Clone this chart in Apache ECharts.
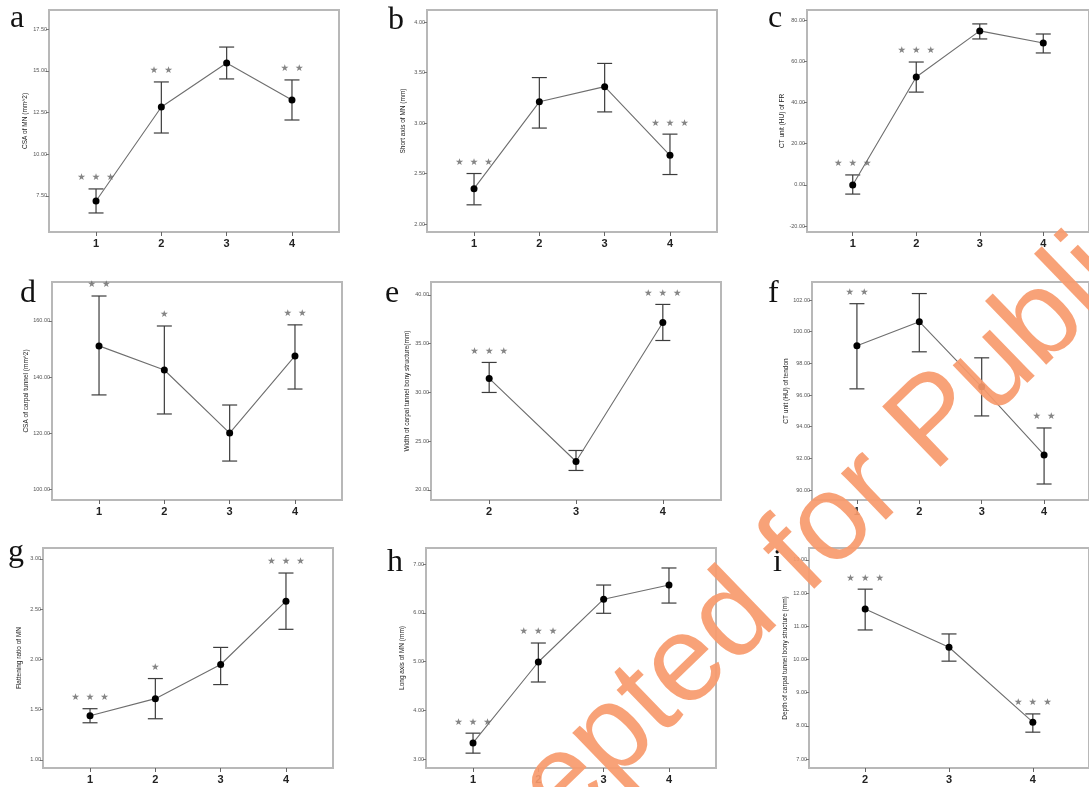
<!DOCTYPE html>
<html><head><meta charset="utf-8">
<script src="https://cdn.jsdelivr.net/npm/echarts@6/dist/echarts.min.js"></script>
<style>html,body{margin:0;padding:0;background:#fff}#c{width:1089px;height:787px}</style>
</head><body><div id="c"></div>
<script>
// ---- data ----
const cats4 = [1, 2, 3, 4];
const cats3 = [2, 3, 4];

const aMean = [7.20, 12.83, 15.46, 13.25];
const aLow  = [6.48, 11.27, 14.51, 12.05];
const aHigh = [7.92, 14.33, 16.42, 14.45];
const aStars = ['***', '**', '', '**'];
const aTicks = [7.5, 10, 12.5, 15, 17.5];

const bMean = [2.35, 3.21, 3.36, 2.68];
const bLow  = [2.19, 2.95, 3.11, 2.49];
const bHigh = [2.50, 3.45, 3.59, 2.89];
const bStars = ['***', '', '', '***'];
const bTicks = [2, 2.5, 3, 3.5, 4];

const cMean = [-0.1, 52.3, 74.7, 68.8];
const cLow  = [-4.5, 45.0, 70.8, 64.0];
const cHigh = [4.8, 59.6, 78.1, 73.2];
const cStars = ['***', '***', '', ''];
const cTicks = [-20, 0, 20, 40, 60, 80];

const dMean = [151.1, 142.5, 120.0, 147.5];
const dLow  = [133.6, 126.8, 110.0, 135.7];
const dHigh = [168.9, 158.2, 130.0, 158.6];
const dStars = ['**', '*', '', '**'];
const dTicks = [100, 120, 140, 160];

const eMean = [31.44, 22.92, 37.18];
const eLow  = [30.00, 22.00, 35.33];
const eHigh = [33.08, 24.05, 39.03];
const eStars = ['***', '', '***'];
const eTicks = [20, 25, 30, 35, 40];

const fMean = [99.11, 100.63, 96.52, 92.22];
const fLow  = [96.39, 98.73, 94.68, 90.38];
const fHigh = [101.77, 102.41, 98.35, 93.92];
const fStars = ['**', '', '', '**'];
const fTicks = [90, 92, 94, 96, 98, 100, 102];

const gMean = [1.44, 1.61, 1.95, 2.58];
const gLow  = [1.37, 1.41, 1.75, 2.30];
const gHigh = [1.51, 1.81, 2.12, 2.86];
const gStars = ['***', '*', '', '***'];
const gTicks = [1, 1.5, 2, 2.5, 3];

const hMean = [3.33, 4.99, 6.28, 6.57];
const hLow  = [3.12, 4.58, 5.99, 6.20];
const hHigh = [3.53, 5.38, 6.57, 6.92];
const hStars = ['***', '***', '', ''];
const hTicks = [3, 4, 5, 6, 7];

const iMean = [11.52, 10.37, 8.11];
const iLow  = [10.89, 9.95, 7.81];
const iHigh = [12.12, 10.77, 8.36];
const iStars = ['***', '', '***'];
const iTicks = [7, 8, 9, 10, 11, 12, 13];

const panelLetters = ['a', 'b', 'c', 'd', 'e', 'f', 'g', 'h', 'i'];
const yNames = [
  'CSA of MN (mm^2)',
  'Short axis of MN (mm)',
  'CT unit (HU) of FR',
  'CSA of carpal tunnel (mm^2)',
  'Width of carpal tunnel bony structure(mm)',
  'CT unit (HU) of tendon',
  'Flattening ratio of MN',
  'Long axis of MN (mm)',
  'Depth of carpal tunnel bony structure (mm)'
];
const watermarkText = 'Accepted for Publication';

// ---- layout (positions / ranges) ----
const panels = [
  {cats: cats4, mean: aMean, low: aLow, high: aHigh, stars: aStars, ticks: aTicks, left: 49,  top: 10,  height: 222, xMin: 0.28, xMax: 4.72, yMin: 5.34,  yMax: 18.64, lx: 10,  lb: 35},
  {cats: cats4, mean: bMean, low: bLow, high: bHigh, stars: bStars, ticks: bTicks, left: 427, top: 10,  height: 222, xMin: 0.28, xMax: 4.72, yMin: 1.921, yMax: 4.119, lx: 388, lb: 37},
  {cats: cats4, mean: cMean, low: cLow, high: cHigh, stars: cStars, ticks: cTicks, left: 807, top: 10,  height: 222, xMin: 0.28, xMax: 4.72, yMin: -22.9, yMax: 84.85, lx: 768, lb: 35},
  {cats: cats4, mean: dMean, low: dLow, high: dHigh, stars: dStars, ticks: dTicks, left: 52,  top: 282, height: 218, xMin: 0.28, xMax: 4.72, yMin: 96.1,  yMax: 173.9, lx: 20,  lb: 310},
  {cats: cats3, mean: eMean, low: eLow, high: eHigh, stars: eStars, ticks: eTicks, left: 431, top: 282, height: 218, xMin: 1.33, xMax: 4.67, yMin: 18.97, yMax: 41.33, lx: 385, lb: 310},
  {cats: cats4, mean: fMean, low: fLow, high: fHigh, stars: fStars, ticks: fTicks, left: 812, top: 282, height: 218, xMin: 0.28, xMax: 4.72, yMin: 89.37, yMax: 103.14, lx: 768, lb: 310},
  {cats: cats4, mean: gMean, low: gLow, high: gHigh, stars: gStars, ticks: gTicks, left: 43,  top: 548, height: 220, xMin: 0.28, xMax: 4.72, yMin: 0.92,  yMax: 3.109, lx: 8,   lb: 569},
  {cats: cats4, mean: hMean, low: hLow, high: hHigh, stars: hStars, ticks: hTicks, left: 426, top: 548, height: 220, xMin: 0.28, xMax: 4.72, yMin: 2.815, yMax: 7.33,  lx: 387, lb: 579},
  {cats: cats3, mean: iMean, low: iLow, high: iHigh, stars: iStars, ticks: iTicks, left: 809, top: 548, height: 220, xMin: 1.33, xMax: 4.67, yMin: 6.73,  yMax: 13.36, lx: 773, lb: 579}
];

const FONT = 'Liberation Sans, Arial, sans-serif';
const grids = [], xAxes = [], yAxes = [], series = [], graphics = [];

function starText(s) {
  return s ? s.split('').map(() => '\u2605').join('  ') : '';
}

panels.forEach((p, k) => {
  grids.push({left: p.left, top: p.top, width: 290, height: p.height, show: true,
    borderColor: '#b8b8b8', borderWidth: 2, backgroundColor: 'transparent', containLabel: false});
  xAxes.push({type: 'value', gridIndex: k, min: p.xMin, max: p.xMax, position: 'bottom',
    axisLine: {show: false, onZero: false}, splitLine: {show: false},
    axisTick: {show: true, customValues: p.cats, length: 4, lineStyle: {color: '#666', width: 1}},
    axisLabel: {show: true, customValues: p.cats, fontSize: 11, fontWeight: 'bold', color: '#222', margin: 6, fontFamily: FONT}
  });
  yAxes.push({type: 'value', gridIndex: k, min: p.yMin, max: p.yMax, position: 'left',
    name: yNames[k], nameLocation: 'middle', nameGap: 20,
    nameTextStyle: {fontSize: 6.5, color: '#222', fontFamily: FONT},
    axisLine: {show: false, onZero: false}, splitLine: {show: false},
    axisTick: {show: true, customValues: p.ticks, length: 3, lineStyle: {color: '#777', width: 1}},
    axisLabel: {show: true, customValues: p.ticks, fontSize: 5.5, color: '#555', margin: 2, fontFamily: FONT,
      formatter: v => Number(v).toFixed(2)}
  });
  series.push({
    type: 'custom', xAxisIndex: k, yAxisIndex: k, z: 3,
    data: p.cats.map((c, j) => [c, p.low[j], p.high[j]]),
    encode: {x: 0, y: [1, 2]},
    renderItem: (params, api) => {
      const x = api.value(0);
      const a = api.coord([x, api.value(1)]);
      const b = api.coord([x, api.value(2)]);
      const w = 7.5;
      const st = {stroke: '#3c3c3c', lineWidth: 1.2};
      return {type: 'group', children: [
        {type: 'line', shape: {x1: a[0], y1: a[1], x2: b[0], y2: b[1]}, style: st},
        {type: 'line', shape: {x1: a[0] - w, y1: a[1], x2: a[0] + w, y2: a[1]}, style: st},
        {type: 'line', shape: {x1: b[0] - w, y1: b[1], x2: b[0] + w, y2: b[1]}, style: st}
      ]};
    }
  });
  series.push({
    type: 'line', xAxisIndex: k, yAxisIndex: k, z: 4,
    data: p.cats.map((c, j) => [c, p.mean[j]]),
    symbol: 'circle', symbolSize: 7, showAllSymbol: true,
    itemStyle: {color: '#000'}, lineStyle: {color: '#6e6e6e', width: 1.1},
    animation: false
  });
  series.push({
    type: 'scatter', xAxisIndex: k, yAxisIndex: k, z: 5,
    data: p.cats.map((c, j) => [c, p.high[j], starText(p.stars[j])]),
    symbolSize: 0.1, itemStyle: {color: 'transparent'},
    label: {show: true, position: 'top', distance: 6, formatter: d => d.value[2],
      fontSize: 9.5, color: '#666', fontFamily: 'DejaVu Sans'},
    animation: false, silent: true
  });
  graphics.push({type: 'text', left: p.lx, top: p.lb - 32,
    style: {text: panelLetters[k], font: '32px "Liberation Serif", "Times New Roman", serif', fill: '#111'}});
});

graphics.push({type: 'text', x: 866, y: 492, rotation: 44 * Math.PI / 180, z: 100,
  style: {text: watermarkText, font: '122px "Liberation Sans", Arial, sans-serif', fill: '#f79a6c',
    align: 'center', verticalAlign: 'middle', opacity: 0.92}});

const chart = echarts.init(document.getElementById('c'), null, {renderer: 'canvas'});
chart.setOption({
  animation: false,
  backgroundColor: '#fff',
  grid: grids, xAxis: xAxes, yAxis: yAxes, series: series,
  graphic: graphics
});
</script></body></html>
